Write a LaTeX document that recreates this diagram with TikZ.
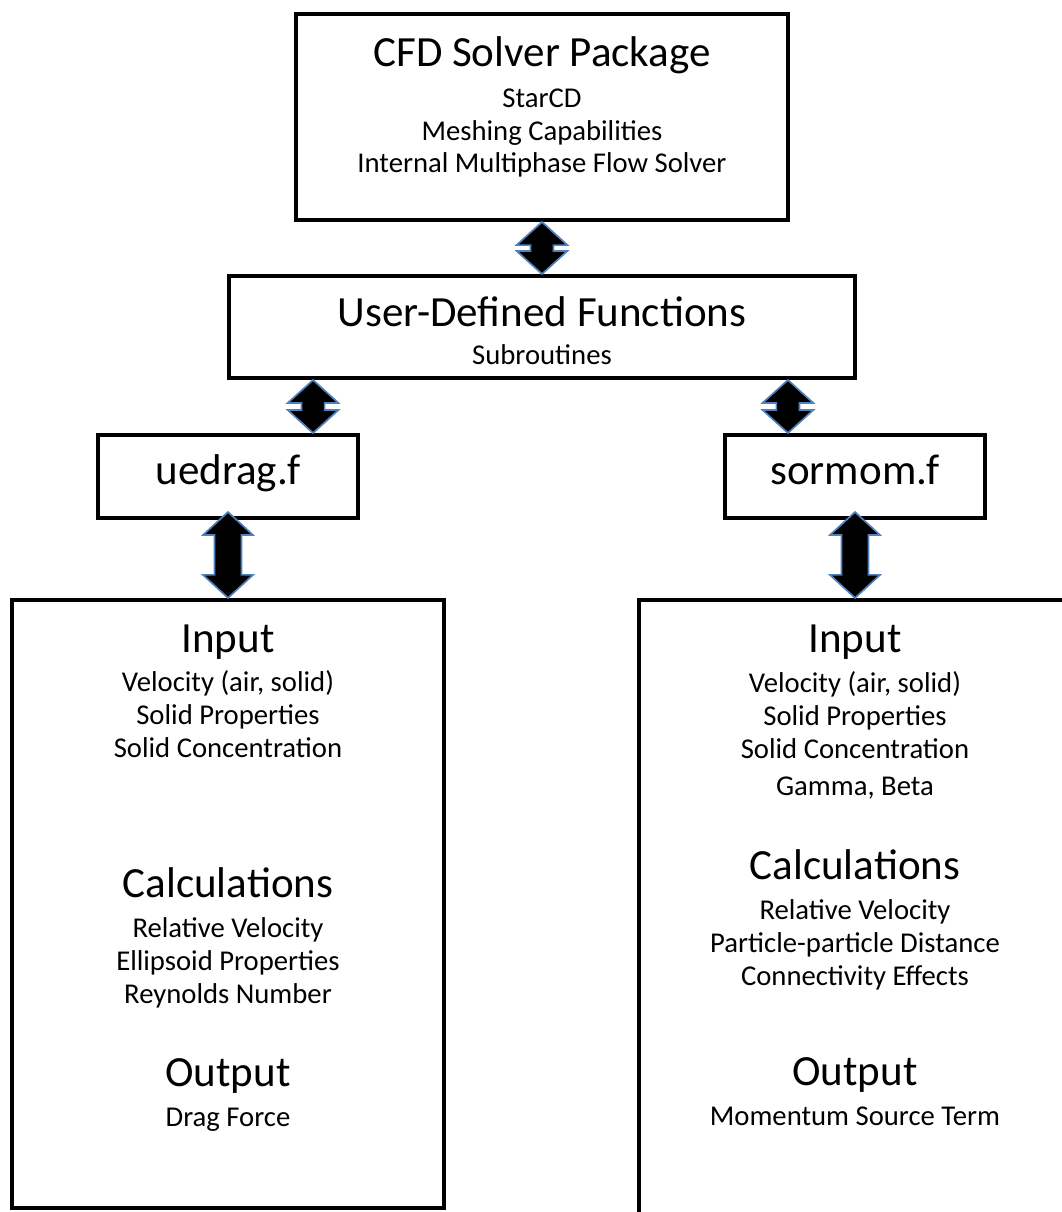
\documentclass[tikz,border=0pt]{standalone}
\usepackage{fontspec}
\setmainfont{Carlito}
\usetikzlibrary{positioning,calc}
\definecolor{arrowblue}{RGB}{79,129,189}
\newcommand{\headfont}{\fontsize{30.6pt}{34pt}\selectfont}
\newcommand{\itemfont}{\fontsize{20.4pt}{23.3pt}\selectfont}
\tikzset{
  box/.style={rectangle, draw=black, line width=2.85pt, fill=white, inner sep=0pt},
  subbox/.style={box, font=\headfont, text height=18pt, text depth=7pt,
                 minimum width=6.5cm, minimum height=2.075cm},
  sect/.style={align=center, font=\itemfont, inner sep=0pt},
  fatarrow/.style={draw=arrowblue, fill=black, line width=1.2pt, line join=miter},
}
% double-headed block arrow: #1 upper end, #2 lower end (x taken from #2),
% #3 half shaft width, #4 half head width, #5 head length
\newcommand{\dblarrow}[5]{%
  \draw[fatarrow] let \p1=(#1), \p2=(#2) in
    (\x2,\y1) -- (\x2+#4,\y1-#5) -- (\x2+#3,\y1-#5) -- (\x2+#3,\y2+#5)
    -- (\x2+#4,\y2+#5) -- (\x2,\y2) -- (\x2-#4,\y2+#5) -- (\x2-#3,\y2+#5)
    -- (\x2-#3,\y1-#5) -- (\x2-#4,\y1-#5) -- cycle;}

\begin{document}
\begin{tikzpicture}[x=0.025cm, y=-0.025cm]
\useasboundingbox (0,0) rectangle (1062,1212);

% solver and UDF layer
\node[box, minimum width=12.3cm, minimum height=5.15cm] (cfd) at (542,117) {};
\node[sect] (cfdtxt) at (542,107) {{\headfont CFD Solver Package}\\[5.7pt]
  StarCD\\ Meshing Capabilities\\ Internal Multiphase Flow Solver};
\node[box, minimum width=15.65cm, minimum height=2.55cm] (udf) at (542,327) {};
\node[sect] (udftxt) at (542,331) {{\headfont User-Defined Functions}\\[3.5pt] Subroutines};

% the two subroutines
\node[subbox] (uedrag) at (228,476.5) {uedrag.f};
\node[subbox] (sormom) at (855,476.5) {sormom.f};

% detail boxes
\node[box, minimum width=10.8cm, minimum height=15.2cm] (lbox) at (228,904) {};
\node[box, minimum width=10.8cm, minimum height=16.45cm] (rbox) at (855,929) {};

\node[sect] (lin) at (228,691) {{\headfont Input}\\[5pt]
  Velocity (air, solid)\\ Solid Properties\\ Solid Concentration};
\node[sect] (lcalc) at (228,938) {{\headfont Calculations}\\[5pt]
  Relative Velocity\\ Ellipsoid Properties\\ Reynolds Number};
\node[sect] (lout) at (228,1095) {{\headfont Output}\\[5pt] Drag Force};

\node[sect] (rin) at (855,712) {{\headfont Input}\\[5pt]
  Velocity (air, solid)\\ Solid Properties\\ Solid Concentration\\[3pt] Gamma, Beta};
\node[sect] (rcalc) at (855,920) {{\headfont Calculations}\\[5pt]
  Relative Velocity\\ Particle-particle Distance\\ Connectivity Effects};
\node[sect] (rout) at (855,1092) {{\headfont Output}\\[5pt] Momentum Source Term};

% block arrows
\dblarrow{cfd.south}{udf.north}{8.2pt}{18.1pt}{16.4pt}
\dblarrow{udf.south}{[xshift=60.5pt]uedrag.north}{8.2pt}{18.1pt}{16.4pt}
\dblarrow{udf.south}{[xshift=-47.7pt]sormom.north}{8.2pt}{18.1pt}{16.4pt}
\foreach \a/\b in {uedrag/lbox, sormom/rbox}
  \dblarrow{[yshift=5.7pt]\a.south}{\b.north}{9.6pt}{17.8pt}{16.4pt};
\end{tikzpicture}
\end{document}
